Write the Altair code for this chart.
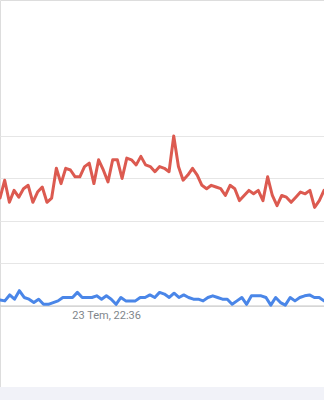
import altair as alt
import pandas as pd

# Interest values (0-100 scale)
red_values = [63.5, 74, 61, 68, 64, 69, 71, 61, 67, 70, 61, 63.5, 81, 72, 81, 80, 76, 76, 82, 84,
              72, 86, 80, 73, 86, 86, 75, 87, 86, 83, 88, 83, 82, 79, 82, 81, 79, 100, 82, 74,
              77, 81, 77, 71, 69, 71, 70, 69, 65, 71, 69, 62, 65, 68, 66, 68, 62, 76, 65, 59,
              65, 64, 61, 64, 67, 66, 68, 58, 62, 68]
blue_values = [3.5, 3, 6.5, 4, 9, 5, 4, 2, 4, 1, 1, 2, 3, 5, 5, 5, 8, 5, 5, 5,
               6, 4, 6, 4, 1, 5, 3, 3, 3, 5, 5, 6.5, 5, 8, 7, 5, 7.5, 5, 6.5, 5,
               4, 4, 3, 5, 6, 5, 4, 4, 1, 3, 5, 1, 6, 6, 6, 5, 0.5, 5, 2, 0.5,
               5, 3, 5, 6, 6.5, 5, 5, 3]
tick_positions = [22.6]
tick_labels = ["23 Tem, 22:36"]
grid_values = [0, 25, 50, 75, 100]

n_red = len(red_values)
span = n_red - 1
rows = []
for i, v in enumerate(red_values):
    rows.append({"series": "red", "idx": i, "value": v})
nb = len(blue_values)
for i, v in enumerate(blue_values):
    rows.append({"series": "blue", "idx": i * span / (nb - 1), "value": v})
df = pd.DataFrame(rows)

label_expr = " : ".join(
    [f"datum.value == {p} ? '{t}'" for p, t in zip(tick_positions, tick_labels)]
) + " : ''"

x_enc = alt.X(
    "idx:Q",
    scale=alt.Scale(domain=[0, span], nice=False, zero=False),
    axis=alt.Axis(values=tick_positions, labelExpr=label_expr, orient="bottom",
                  offset=-94, ticks=False, domain=False, grid=False,
                  labelFont="Roboto", labelFontSize=11, labelColor="#80868b",
                  labelPadding=3, title=None),
)
y_scale = alt.Scale(domain=[-55.3, 180], nice=False, zero=False)

lines = alt.Chart(df).mark_line(strokeWidth=3, strokeJoin="round", strokeCap="round").encode(
    x=x_enc,
    y=alt.Y("value:Q", scale=y_scale,
            axis=alt.Axis(values=grid_values, labels=False, ticks=False, domain=False,
                          grid=True, gridColor="#e6e6e6", gridWidth=1, title=None)),
    color=alt.Color("series:N", scale=alt.Scale(domain=["red", "blue"],
                                                range=["#dc5a50", "#4a86e8"]), legend=None),
)

baseline = alt.Chart(pd.DataFrame({"v": [0]})).mark_rule(color="#c6c6c6", strokeWidth=1).encode(
    y=alt.Y("v:Q", scale=y_scale)
)

band = alt.Chart(pd.DataFrame({"a": [0]})).mark_rect(color="#f1f2f8").encode(
    x=alt.value(0), x2=alt.value(324), y=alt.value(387), y2=alt.value(400)
)

chart = alt.layer(band, baseline, lines).properties(
    width=324, height=400,
    autosize=alt.AutoSizeParams(type="none"),
    padding=0,
).configure_view(stroke=None).configure(background="white")

chart.save("out.html", embed_options={"renderer": "svg", "actions": False})
